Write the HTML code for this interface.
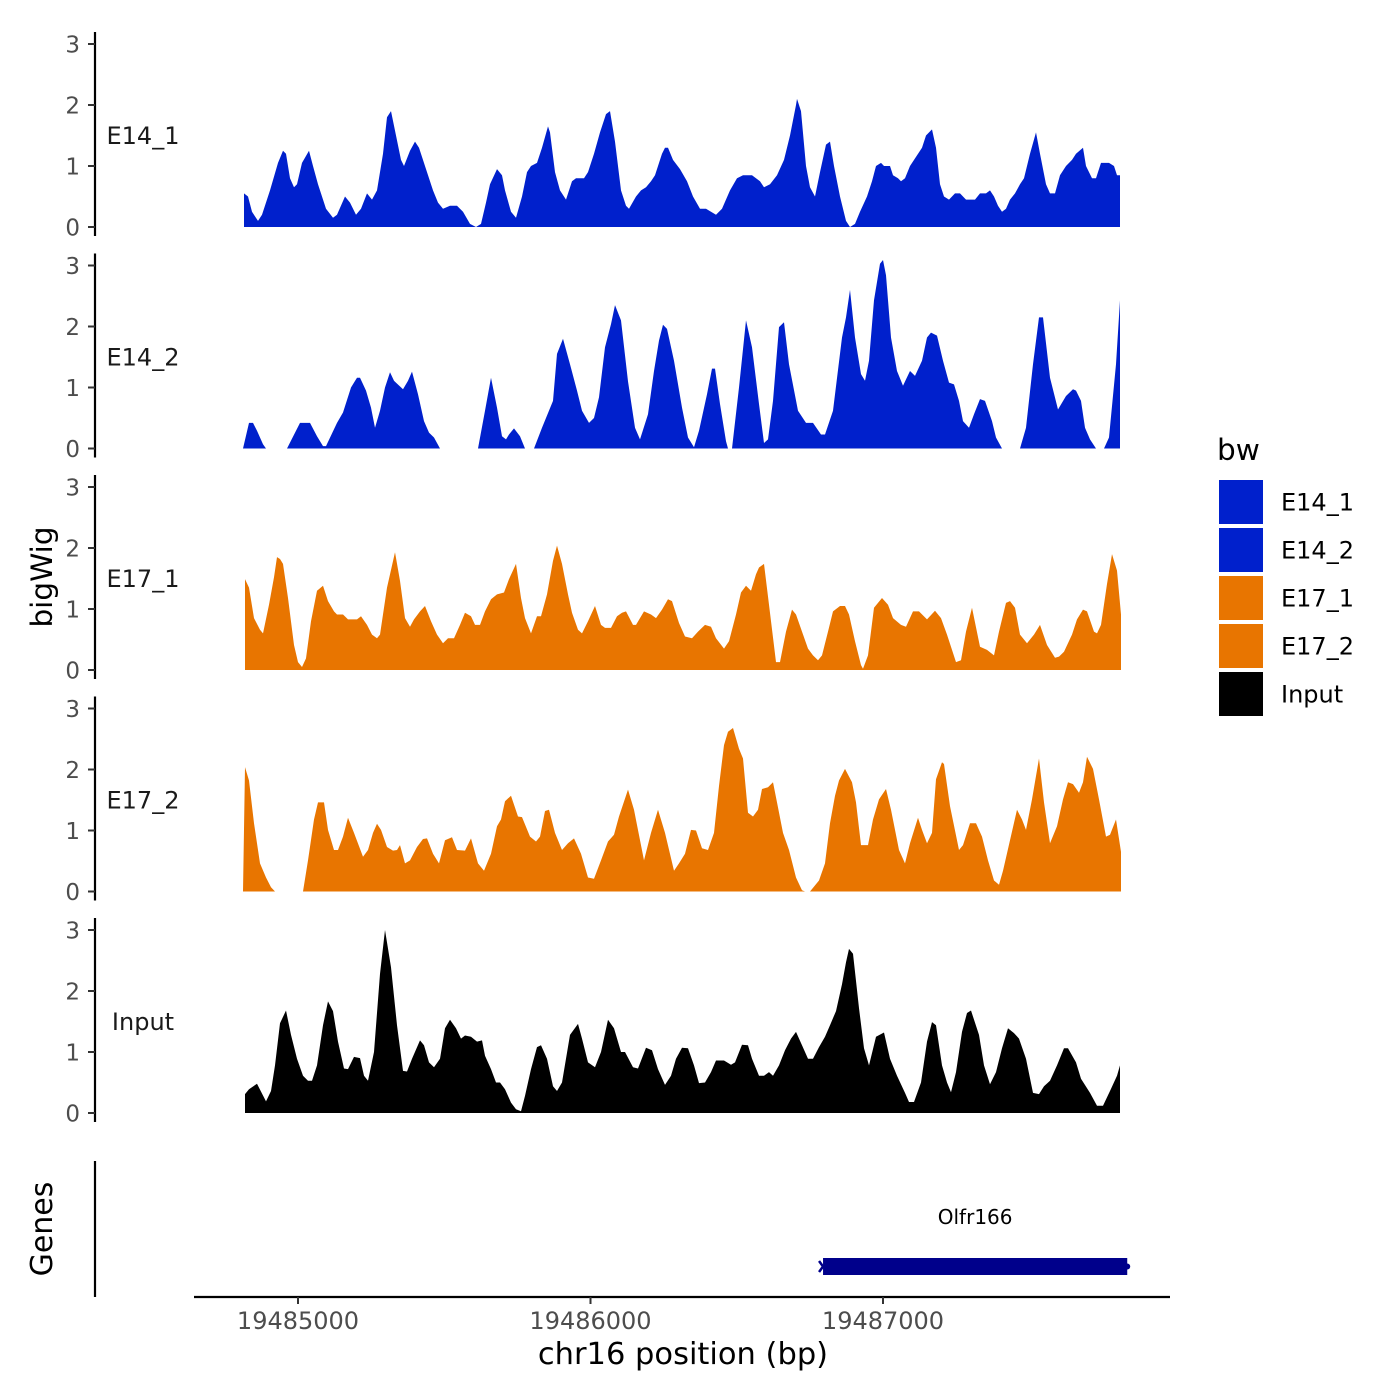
<!DOCTYPE html>
<html><head><meta charset="utf-8"><style>
html,body{margin:0;padding:0;background:#fff;}
svg{display:block;font-family:"DejaVu Sans","Liberation Sans",sans-serif;}
</style></head><body>
<svg id="chart" width="1400" height="1400" viewBox="0 0 1400 1400">
<rect x="0" y="0" width="1400" height="1400" fill="#fff"/>
<g id="tracks"></g>
<g id="axes"></g>
</svg>
<script>
// ---- data (genomic bins: bp = BIN_ORIGIN + bin*BIN_SIZE on chr16) ----
const BIN_ORIGIN = 19483981;
const BIN_SIZE = 3.419;
const trackNames = ["E14_1","E14_2","E17_1","E17_2","Input"];
const trackColors = ["#0020CC","#0020CC","#E87500","#E87500","#000000"];
const yTicks = [0,1,2,3];
const xTicks = [19485000,19486000,19487000];
const xTickLabels = ["19485000","19486000","19487000"];
const geneName = "Olfr166";
const geneStart = 19486795;
const geneEnd = 19487835;

const e14_1_pos = [244,248,252,258,262,270,278,283,286,290,294,297,302,309,313,318,326,333,337,345,350,356,361,367,372,377,383,387,391,396,401,404,410,415,419,427,433,438,443,450,457,463,470,476,481,486,490,497,502,505,511,516,522,527,531,537,542,548,550,555,560,566,572,576,584,588,594,600,606,610,615,621,626,629,636,641,646,651,655,662,665,668,673,680,687,693,700,706,711,716,722,730,737,743,752,760,764,770,777,784,790,796,797,801,806,810,815,820,826,830,834,840,846,850,855,860,867,872,876,881,884,890,893,898,901,905,910,916,922,926,932,936,940,944,949,955,960,966,975,980,986,990,994,998,1002,1006,1010,1015,1020,1024,1030,1036,1040,1046,1050,1055,1060,1066,1072,1076,1083,1086,1092,1096,1101,1109,1114,1117,1120];
const e14_1_val = [0.55,0.5,0.25,0.1,0.2,0.6,1.05,1.25,1.2,0.8,0.65,0.7,1.05,1.25,1.0,0.7,0.3,0.15,0.2,0.5,0.4,0.2,0.3,0.55,0.45,0.6,1.2,1.8,1.9,1.5,1.1,1.0,1.25,1.4,1.3,0.9,0.6,0.4,0.3,0.35,0.35,0.25,0.05,0.0,0.05,0.4,0.7,0.95,0.85,0.6,0.25,0.15,0.5,0.9,1.0,1.05,1.3,1.65,1.55,0.9,0.6,0.45,0.75,0.8,0.8,0.9,1.2,1.55,1.85,1.9,1.4,0.6,0.35,0.3,0.5,0.6,0.65,0.75,0.85,1.2,1.3,1.3,1.1,0.95,0.75,0.5,0.3,0.3,0.25,0.2,0.3,0.6,0.8,0.85,0.85,0.75,0.65,0.7,0.85,1.1,1.5,2.0,2.1,1.9,1.0,0.65,0.5,0.9,1.35,1.4,1.0,0.5,0.1,0.0,0.05,0.25,0.5,0.75,1.0,1.05,1.0,1.0,0.85,0.8,0.75,0.8,1.0,1.15,1.3,1.5,1.6,1.3,0.7,0.5,0.45,0.55,0.55,0.45,0.45,0.55,0.55,0.6,0.5,0.35,0.25,0.3,0.45,0.55,0.7,0.8,1.2,1.55,1.2,0.7,0.55,0.55,0.85,1.0,1.1,1.2,1.3,1.0,0.8,0.8,1.05,1.05,1.0,0.85,0.85];

// null value = gap (no coverage)
const e14_2_pos = [243,249,253,257,263,266,276,287,300,310,317,323,326,337,343,351,357,360,366,371,375,380,385,390,394,403,408,412,418,424,429,434,440,460,478,485,491,497,502,506,509,514,520,525,530,534,542,553,557,563,570,577,582,589,594,599,605,611,615,621,628,635,640,648,654,659,663,667,674,682,688,694,699,707,712,715,720,726,728,730,732,739,746,752,759,764,768,773,779,784,789,798,806,813,821,825,833,842,846,850,855,861,865,869,874,880,883,886,891,897,903,910,915,922,927,931,937,943,949,954,959,963,969,974,980,985,992,996,1002,1010,1020,1026,1033,1039,1043,1050,1058,1066,1073,1076,1081,1085,1090,1096,1100,1104,1109,1116,1120];
const e14_2_val = [0,0.42,0.42,0.29,0.07,0,null,0,0.42,0.42,0.2,0.04,0.04,0.42,0.59,1.0,1.16,1.16,0.95,0.67,0.34,0.62,1.0,1.25,1.11,0.97,1.11,1.26,0.89,0.45,0.26,0.18,0,null,0,0.62,1.16,0.67,0.2,0.15,0.23,0.33,0.2,0,null,0,0.34,0.78,1.55,1.8,1.38,0.95,0.62,0.42,0.5,0.84,1.66,2.04,2.35,2.1,1.1,0.34,0.15,0.56,1.27,1.77,2.03,1.96,1.44,0.67,0.18,0.02,0.29,0.89,1.31,1.31,0.73,0.12,0,null,0,1.0,2.1,1.66,0.73,0.09,0.15,0.78,1.99,2.07,1.38,0.62,0.42,0.42,0.23,0.23,0.62,1.82,2.15,2.6,1.82,1.22,1.11,1.44,2.43,3.03,3.09,2.84,1.82,1.27,1.03,1.27,1.19,1.44,1.82,1.9,1.85,1.44,1.08,1.05,0.78,0.45,0.34,0.56,0.81,0.78,0.45,0.18,0,null,0,0.34,1.38,2.15,2.15,1.16,0.64,0.86,0.97,0.95,0.78,0.34,0.15,0,null,0,0.18,1.38,2.43];

const e17_1_pos = [245,249,254,260,263,269,274,277,280,283,288,294,298,302,306,311,317,323,328,334,337,343,348,357,361,367,372,377,380,387,395,400,405,410,414,420,425,431,437,443,448,454,460,465,471,475,480,485,491,497,504,509,516,521,525,531,537,541,547,553,557,562,568,572,578,582,588,595,601,605,611,617,622,626,633,636,644,651,656,662,668,672,679,685,692,698,705,711,716,724,729,736,741,746,751,756,759,764,769,776,780,786,792,796,802,808,813,818,822,828,833,840,845,849,855,861,863,868,874,882,888,893,901,906,913,919,927,935,941,947,956,961,966,972,980,987,994,999,1006,1010,1015,1020,1027,1034,1040,1047,1055,1059,1064,1072,1077,1083,1087,1094,1097,1101,1107,1112,1117,1121];
const e17_1_val = [1.49,1.35,0.85,0.66,0.6,1.07,1.52,1.85,1.82,1.74,1.18,0.41,0.13,0.05,0.19,0.8,1.3,1.38,1.13,0.96,0.91,0.91,0.83,0.83,0.88,0.74,0.58,0.52,0.58,1.35,1.93,1.46,0.85,0.71,0.83,0.96,1.05,0.8,0.58,0.44,0.52,0.52,0.74,0.94,0.88,0.74,0.74,0.96,1.16,1.24,1.27,1.49,1.74,1.18,0.85,0.6,0.88,0.88,1.24,1.79,2.04,1.74,1.24,0.94,0.66,0.6,0.8,1.05,0.74,0.69,0.69,0.88,0.94,0.96,0.74,0.74,0.96,0.91,0.85,0.99,1.16,1.13,0.77,0.55,0.52,0.63,0.74,0.71,0.52,0.35,0.47,0.91,1.27,1.38,1.3,1.57,1.68,1.74,1.07,0.13,0.13,0.63,0.99,0.91,0.63,0.35,0.24,0.16,0.24,0.63,0.96,1.05,1.05,0.91,0.47,0.08,0.02,0.24,1.02,1.18,1.07,0.85,0.74,0.71,0.96,0.96,0.83,0.97,0.85,0.58,0.13,0.16,0.63,1.02,0.38,0.33,0.24,0.63,1.1,1.13,1.02,0.58,0.44,0.58,0.74,0.41,0.2,0.22,0.3,0.58,0.83,0.99,0.96,0.63,0.6,0.74,1.41,1.9,1.63,0.91];

const e17_2_pos = [243,245,249,254,260,266,271,275,290,303,308,314,318,324,328,334,338,343,348,354,363,368,373,377,381,387,393,397,400,405,410,417,423,427,433,439,445,452,457,465,471,478,484,491,497,501,505,511,518,522,530,536,540,545,549,555,562,568,574,581,588,594,601,608,614,619,628,634,644,651,658,665,674,679,685,691,696,702,708,714,719,724,728,733,739,743,748,753,758,762,768,773,777,783,789,796,802,805,807,810,819,825,830,835,839,845,852,856,861,868,873,879,886,891,899,905,910,918,922,927,932,936,942,944,950,959,963,970,976,982,988,994,999,1003,1010,1017,1022,1026,1032,1039,1044,1050,1057,1063,1068,1073,1079,1083,1087,1093,1099,1106,1110,1116,1121];
const e17_2_val = [0,2.04,1.82,1.12,0.46,0.23,0.07,0,null,0,0.51,1.18,1.46,1.46,1.01,0.68,0.68,0.9,1.21,0.96,0.57,0.68,0.96,1.11,1.01,0.73,0.67,0.68,0.76,0.46,0.51,0.73,0.86,0.87,0.62,0.46,0.84,0.89,0.68,0.67,0.87,0.46,0.34,0.62,1.07,1.18,1.48,1.57,1.23,1.22,0.9,0.82,0.9,1.32,1.34,0.96,0.68,0.79,0.87,0.62,0.23,0.21,0.51,0.82,0.93,1.23,1.67,1.34,0.51,0.96,1.34,0.96,0.34,0.46,0.62,1.01,1.0,0.71,0.68,0.96,1.73,2.4,2.62,2.68,2.34,2.18,1.29,1.23,1.34,1.68,1.71,1.79,1.46,0.96,0.68,0.23,0.02,0,null,0,0.18,0.46,1.12,1.57,1.82,2.01,1.79,1.46,0.76,0.76,1.18,1.51,1.68,1.34,0.68,0.46,0.79,1.21,1.01,0.79,0.96,1.84,2.12,2.09,1.4,0.68,0.76,1.12,1.12,0.9,0.51,0.18,0.11,0.34,0.84,1.34,1.18,1.01,1.51,2.18,1.46,0.79,1.07,1.51,1.79,1.76,1.62,1.79,2.21,2.01,1.51,0.9,0.93,1.18,0.65];

const input_pos = [245,249,257,266,271,275,280,286,291,297,303,308,312,317,323,328,333,338,344,348,354,360,364,368,374,380,385,391,397,403,407,412,420,424,429,434,440,445,450,456,461,465,471,477,482,485,491,496,500,505,511,516,521,525,531,537,541,547,553,557,562,570,578,582,588,595,601,608,614,621,625,633,638,646,652,658,665,671,676,682,688,694,699,705,711,716,724,731,735,742,748,752,759,764,769,773,779,785,791,796,802,808,813,819,825,830,836,842,846,849,853,859,864,869,876,884,890,897,905,909,914,921,927,932,936,942,947,951,956,962,967,971,979,984,990,996,1002,1008,1014,1019,1026,1033,1039,1044,1050,1057,1064,1068,1076,1081,1090,1097,1103,1110,1117,1120];
const input_val = [0.31,0.39,0.48,0.19,0.36,0.78,1.47,1.68,1.28,0.89,0.61,0.53,0.53,0.78,1.44,1.83,1.67,1.17,0.73,0.72,0.92,0.9,0.61,0.53,1.0,2.28,3.0,2.39,1.44,0.69,0.68,0.89,1.19,1.11,0.83,0.75,0.89,1.39,1.53,1.39,1.22,1.27,1.25,1.17,1.19,0.94,0.72,0.5,0.5,0.39,0.17,0.06,0.03,0.28,0.72,1.08,1.11,0.89,0.44,0.36,0.5,1.28,1.46,1.22,0.83,0.75,1.0,1.53,1.39,1.0,1.0,0.75,0.73,1.07,1.03,0.72,0.46,0.61,0.89,1.07,1.06,0.78,0.49,0.5,0.67,0.86,0.86,0.79,0.83,1.12,1.11,0.89,0.61,0.61,0.67,0.61,0.78,1.03,1.22,1.33,1.11,0.89,0.89,1.08,1.25,1.44,1.67,2.11,2.47,2.69,2.61,1.72,1.06,0.78,1.25,1.32,0.89,0.61,0.33,0.18,0.18,0.5,1.17,1.49,1.44,0.78,0.5,0.34,0.67,1.33,1.64,1.68,1.28,0.78,0.47,0.67,1.06,1.39,1.31,1.22,0.89,0.33,0.31,0.44,0.53,0.78,1.06,1.06,0.83,0.56,0.33,0.12,0.12,0.36,0.61,0.78];

const trackPos = [e14_1_pos,e14_2_pos,e17_1_pos,e17_2_pos,input_pos];
const trackVal = [e14_1_val,e14_2_val,e17_1_val,e17_2_val,input_val];

// ---- scales ----
const X0_BP = 19485000, X0_PX = 298, PX_PER_BP = 0.2925;
function xScale(bp){ return X0_PX + (bp - X0_BP) * PX_PER_BP; }
function binToBp(b){ return BIN_ORIGIN + b * BIN_SIZE; }
const PANEL_ZERO0 = 227, PANEL_STEP = 221.5, PX_PER_UNIT = 61;
function yScale(panel, v){ return PANEL_ZERO0 + panel * PANEL_STEP - v * PX_PER_UNIT; }

const NS = "http://www.w3.org/2000/svg";
const tracksG = document.getElementById("tracks");
const axesG = document.getElementById("axes");
function mk(tag, attrs, parent){ const e = document.createElementNS(NS, tag); for (const k in attrs) e.setAttribute(k, attrs[k]); parent.appendChild(e); return e; }

// areas
trackNames.forEach((name, i) => {
  const pos = trackPos[i], val = trackVal[i];
  const base = yScale(i, 0);
  let d = "", seg = [];
  const flush = () => {
    if (seg.length > 1) {
      d += "M" + seg[0][0].toFixed(1) + "," + base + " ";
      seg.forEach(p => { d += "L" + p[0].toFixed(1) + "," + p[1].toFixed(1) + " "; });
      d += "L" + seg[seg.length-1][0].toFixed(1) + "," + base + " Z ";
    }
    seg = [];
  };
  for (let k = 0; k < pos.length; k++) {
    if (val[k] === null) { flush(); continue; }
    seg.push([xScale(binToBp(pos[k])), yScale(i, val[k])]);
  }
  flush();
  const p = mk("path", {d: d, fill: trackColors[i], stroke: "none"}, tracksG);
  
  

  // y axis
  const top = yScale(i, 3) - 12, bot = base + 9;
  const ax = mk("line", {x1:95, x2:95, y1:top, y2:bot, stroke:"#000", "stroke-width":2.2}, axesG);
  
  
  yTicks.forEach(t => {
    const y = yScale(i, t);
    const tk = mk("line", {x1:88, x2:95, y1:y, y2:y, stroke:"#333", "stroke-width":2}, axesG);
    
    
    const tl = mk("text", {x:80, y:y+8.5, "text-anchor":"end", "font-size":23, fill:"#4d4d4d"}, axesG);
    tl.textContent = String(t);
    
    
  });
  const lab = mk("text", {x:143, y:yScale(i,1.5)+8.5, "text-anchor":"middle", "font-size":24, fill:"#1a1a1a"}, axesG);
  lab.textContent = name;
  
  
});

// x axis
const xl = mk("line", {x1:194, x2:1170, y1:1297, y2:1297, stroke:"#000", "stroke-width":2.2}, axesG);


xTicks.forEach((t, k) => {
  const x = xScale(t);
  const tk = mk("line", {x1:x, x2:x, y1:1297, y2:1304, stroke:"#333", "stroke-width":2}, axesG);
  
  
  const tl = mk("text", {x:x, y:1329, "text-anchor":"middle", "font-size":24, fill:"#4d4d4d"}, axesG);
  tl.textContent = xTickLabels[k];
  
  
});

// gene track
const gl = mk("line", {x1:95, x2:95, y1:1161, y2:1297, stroke:"#000", "stroke-width":2.2}, axesG);


const gx1 = xScale(geneStart), gx2 = xScale(geneEnd);
const gr = mk("rect", {x:gx1, y:1258, width:gx2-gx1, height:17, fill:"#00008B"}, axesG);


const ga = mk("path", {d:"M"+(gx1-4)+",1261 L"+gx1+",1266.5 L"+(gx1-4)+",1272", stroke:"#00008B", "stroke-width":2.5, fill:"none"}, axesG);


const gc = mk("circle", {cx:gx2, cy:1266.5, r:3, fill:"#00008B"}, axesG);


const gt = mk("text", {x:(gx1+gx2)/2, y:1224, "text-anchor":"middle", "font-size":20, fill:"#000"}, axesG);
gt.textContent = geneName;


</script>
<script>
(function(){
  const svg = document.getElementById("chart");
  const NS = "http://www.w3.org/2000/svg";
  function t(attrs, txt, name){
    const e = document.createElementNS(NS, "text");
    for (const k in attrs) e.setAttribute(k, attrs[k]);
    e.textContent = txt;
    
    
    svg.appendChild(e);
  }
  t({x:683, y:1364, "text-anchor":"middle", "font-size":30.5}, "chr16 position (bp)", "x-axis-title");
  t({x:52, y:577, "text-anchor":"middle", "font-size":29.5, transform:"rotate(-90 52 577)"}, "bigWig", "y-axis-title");
  t({x:52, y:1229, "text-anchor":"middle", "font-size":30, transform:"rotate(-90 52 1229)"}, "Genes", "genes-axis-title");
  t({x:1217, y:460, "font-size":29.5}, "bw", "legend-title");
  const keys = ["E14_1","E14_2","E17_1","E17_2","Input"];
  const cols = ["#0020CC","#0020CC","#E87500","#E87500","#000000"];
  keys.forEach((k,i)=>{
    const r = document.createElementNS(NS, "rect");
    r.setAttribute("x", 1219); r.setAttribute("y", 480 + i*48);
    r.setAttribute("width", 44); r.setAttribute("height", 44);
    r.setAttribute("fill", cols[i]);
    
    
    svg.appendChild(r);
    t({x:1281, y:510.5 + i*48, "font-size":24}, k, "legend-label");
  });
})();
</script>
</body></html>
